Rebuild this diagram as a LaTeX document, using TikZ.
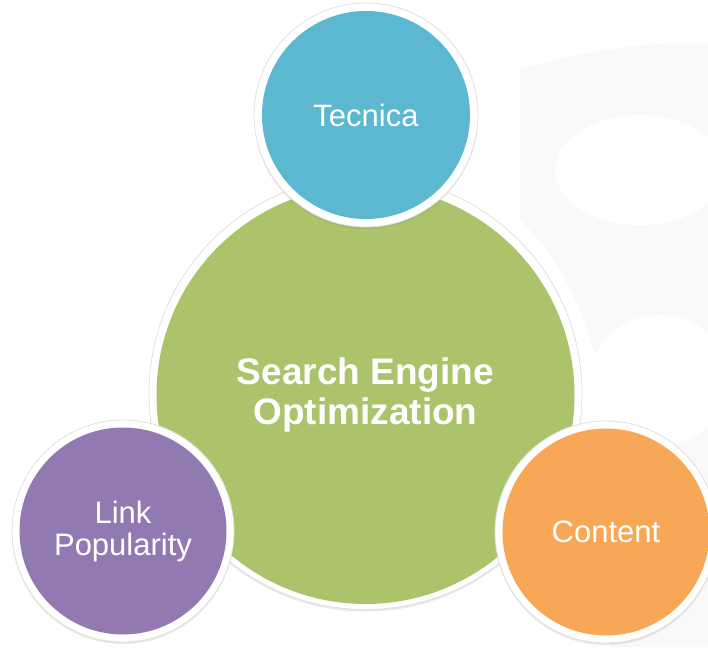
\documentclass[tikz,border=0pt]{standalone}
\usepackage{fontspec}
\setmainfont{Liberation Sans}
\usetikzlibrary{shadows}
\definecolor{seogreen}{HTML}{ABC36B}
\definecolor{seoblue}{HTML}{5BB8D0}
\definecolor{seopurple}{HTML}{9379B1}
\definecolor{seoorange}{HTML}{F8A757}
\definecolor{bgghost}{HTML}{F9F9F9}
\begin{document}
\begin{tikzpicture}[x=1pt,y=-1pt,
  ring/.style={circle, fill=white, draw=black!12, line width=0.8pt, inner sep=0pt,
    drop shadow={opacity=0.18, shadow xshift=0pt, shadow yshift=-2pt}},
  disc/.style={circle, inner sep=0pt, text=white, align=center},
  smalltext/.style={font=\fontsize{31}{32}\selectfont},
  bigtext/.style={font=\bfseries\fontsize{37}{40}\selectfont}]
\useasboundingbox (0,0) rectangle (708,647);
% faint background
\fill[bgghost] (520,70) .. controls (600,45) and (680,40) .. (708,45) -- (708,647) -- (610,647) -- (610,430) .. controls (595,330) and (570,270) .. (520,220) -- cycle;
\fill[white] (640,170) ellipse [x radius=85, y radius=55];
\fill[white] (660,380) ellipse [x radius=70, y radius=65];
% central circle
\node[ring, minimum size=433pt] (seoring) at (365.5,393) {};
\node[disc, fill=seogreen, minimum size=418pt, bigtext] (seo) at ([yshift=-2pt]seoring.center) {Search Engine\\Optimization};
% satellites
\node[ring, minimum size=224pt] (tecring) at (366,115) {};
\node[disc, fill=seoblue, minimum size=208pt, smalltext] (tec) at (tecring.center) {Tecnica};
\node[ring, minimum size=222pt] (linkring) at (123,531) {};
\node[disc, fill=seopurple, minimum size=207pt, smalltext] (link) at (linkring.center) {Link\\Popularity};
\node[ring, minimum size=222pt] (contring) at (606,532) {};
\node[disc, fill=seoorange, minimum size=207pt, smalltext] (cont) at (contring.center) {Content};
\end{tikzpicture}
\end{document}
